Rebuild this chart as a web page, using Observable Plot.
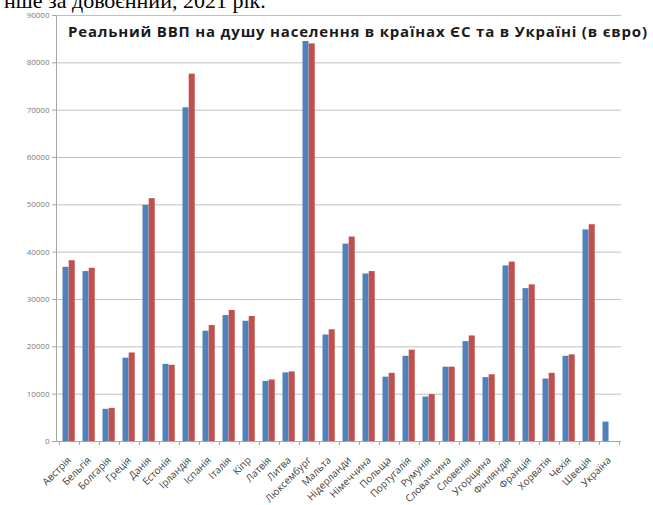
<!DOCTYPE html>
<html>
<head>
<meta charset="utf-8">
<script src="https://cdn.jsdelivr.net/npm/d3@7"></script>
<script src="https://cdn.jsdelivr.net/npm/@observablehq/plot@0.6"></script>
<style>
  html, body { margin: 0; padding: 0; background: #fff; }
  #wrap { position: relative; width: 653px; height: 505px; overflow: hidden; }
  #doctext { position: absolute; left: 4px; top: -10px; font: 22px/22px "Liberation Serif", "Times New Roman", serif; color: #000; white-space: nowrap; }
  #title { position: absolute; left: 68px; top: 22px; font: bold 15px/19px "Open Sans", sans-serif; letter-spacing: 0.8px; color: #1a1a1a; white-space: nowrap; background: #fff; }
  #chart { position: absolute; left: 0; top: 0; }
</style>
</head>
<body>
<div id="wrap">
  <div id="chart"></div>
  <div id="doctext">нше за довоєнний, 2021 рік.</div>
  <div id="title">Реальний ВВП на душу населення в країнах ЄС та в Україні (в євро)</div>
</div>
<script>
const categories = ["Австрія","Бельгія","Болгарія","Греція","Данія","Естонія","Ірландія","Іспанія","Італія","Кіпр","Латвія","Литва","Люксембург","Мальта","Нідерланди","Німеччина","Польща","Португалія","Румунія","Словаччина","Словенія","Угорщина","Фінляндія","Франція","Хорватія","Чехія","Швеція","Україна"];
const blueSeries = [36800,35900,6800,17600,49900,16300,70500,23300,26600,25400,12700,14500,84500,22500,41700,35400,13600,18000,9400,15700,21100,13500,37100,32300,13200,18000,44700,4100];
const redSeries  = [38200,36600,7000,18700,51300,16100,77600,24500,27700,26400,13000,14700,84000,23600,43200,35900,14400,19300,9900,15700,22300,14100,37900,33100,14400,18300,45800,null];
const yTicks = [0,10000,20000,30000,40000,50000,60000,70000,80000,90000];

const blueData = categories.map((c, i) => ({country: c, value: blueSeries[i]}));
const redData = categories.map((c, i) => ({country: c, value: redSeries[i]})).filter(d => d.value != null);

const W = 653, H = 505, mL = 56, mR = 32, mT = 15, mB = 64;
const bw = (W - mL - mR) / categories.length;

const chart = Plot.plot({
  width: W, height: H,
  marginLeft: mL, marginRight: mR, marginTop: mT, marginBottom: mB,
  style: {background: "transparent", fontFamily: "'Open Sans', sans-serif"},
  x: {domain: categories, padding: 0, axis: null},
  y: {domain: [0, 90000], axis: null},
  marks: [
    Plot.ruleY(yTicks.filter(d => d > 0), {stroke: "#c0c0c0", strokeWidth: 1}),
    Plot.barY(blueData, {x: "country", y: "value", fill: "#4f81bd", insetLeft: 3.5, insetRight: bw - 9.7}),
    Plot.barY(redData, {x: "country", y: "value", fill: "#c0504d", insetLeft: 9.7, insetRight: bw - 15.9}),
    Plot.frame({anchor: "left", stroke: "#a6a6a6"}),
    Plot.ruleY([0], {stroke: "#a6a6a6"}),
    Plot.axisY({ticks: yTicks, tickSize: 4, tickPadding: 3, tickFormat: d => String(d), fontSize: 8, fill: "#7a7a7a", stroke: "#a6a6a6", label: null}),
    Plot.axisX({tickSize: 4, tickFormat: () => "", dx: -bw / 2, stroke: "#a6a6a6", label: null}),
    Plot.axisX({ticks: [categories[categories.length - 1]], tickSize: 4, tickFormat: () => "", dx: bw / 2, stroke: "#a6a6a6", label: null}),
    Plot.axisX({tickSize: 0, tickPadding: 17, tickRotate: -45, fontSize: 10, fill: "#404040", label: null})
  ]
});
document.getElementById("chart").appendChild(chart);
</script>
</body>
</html>
